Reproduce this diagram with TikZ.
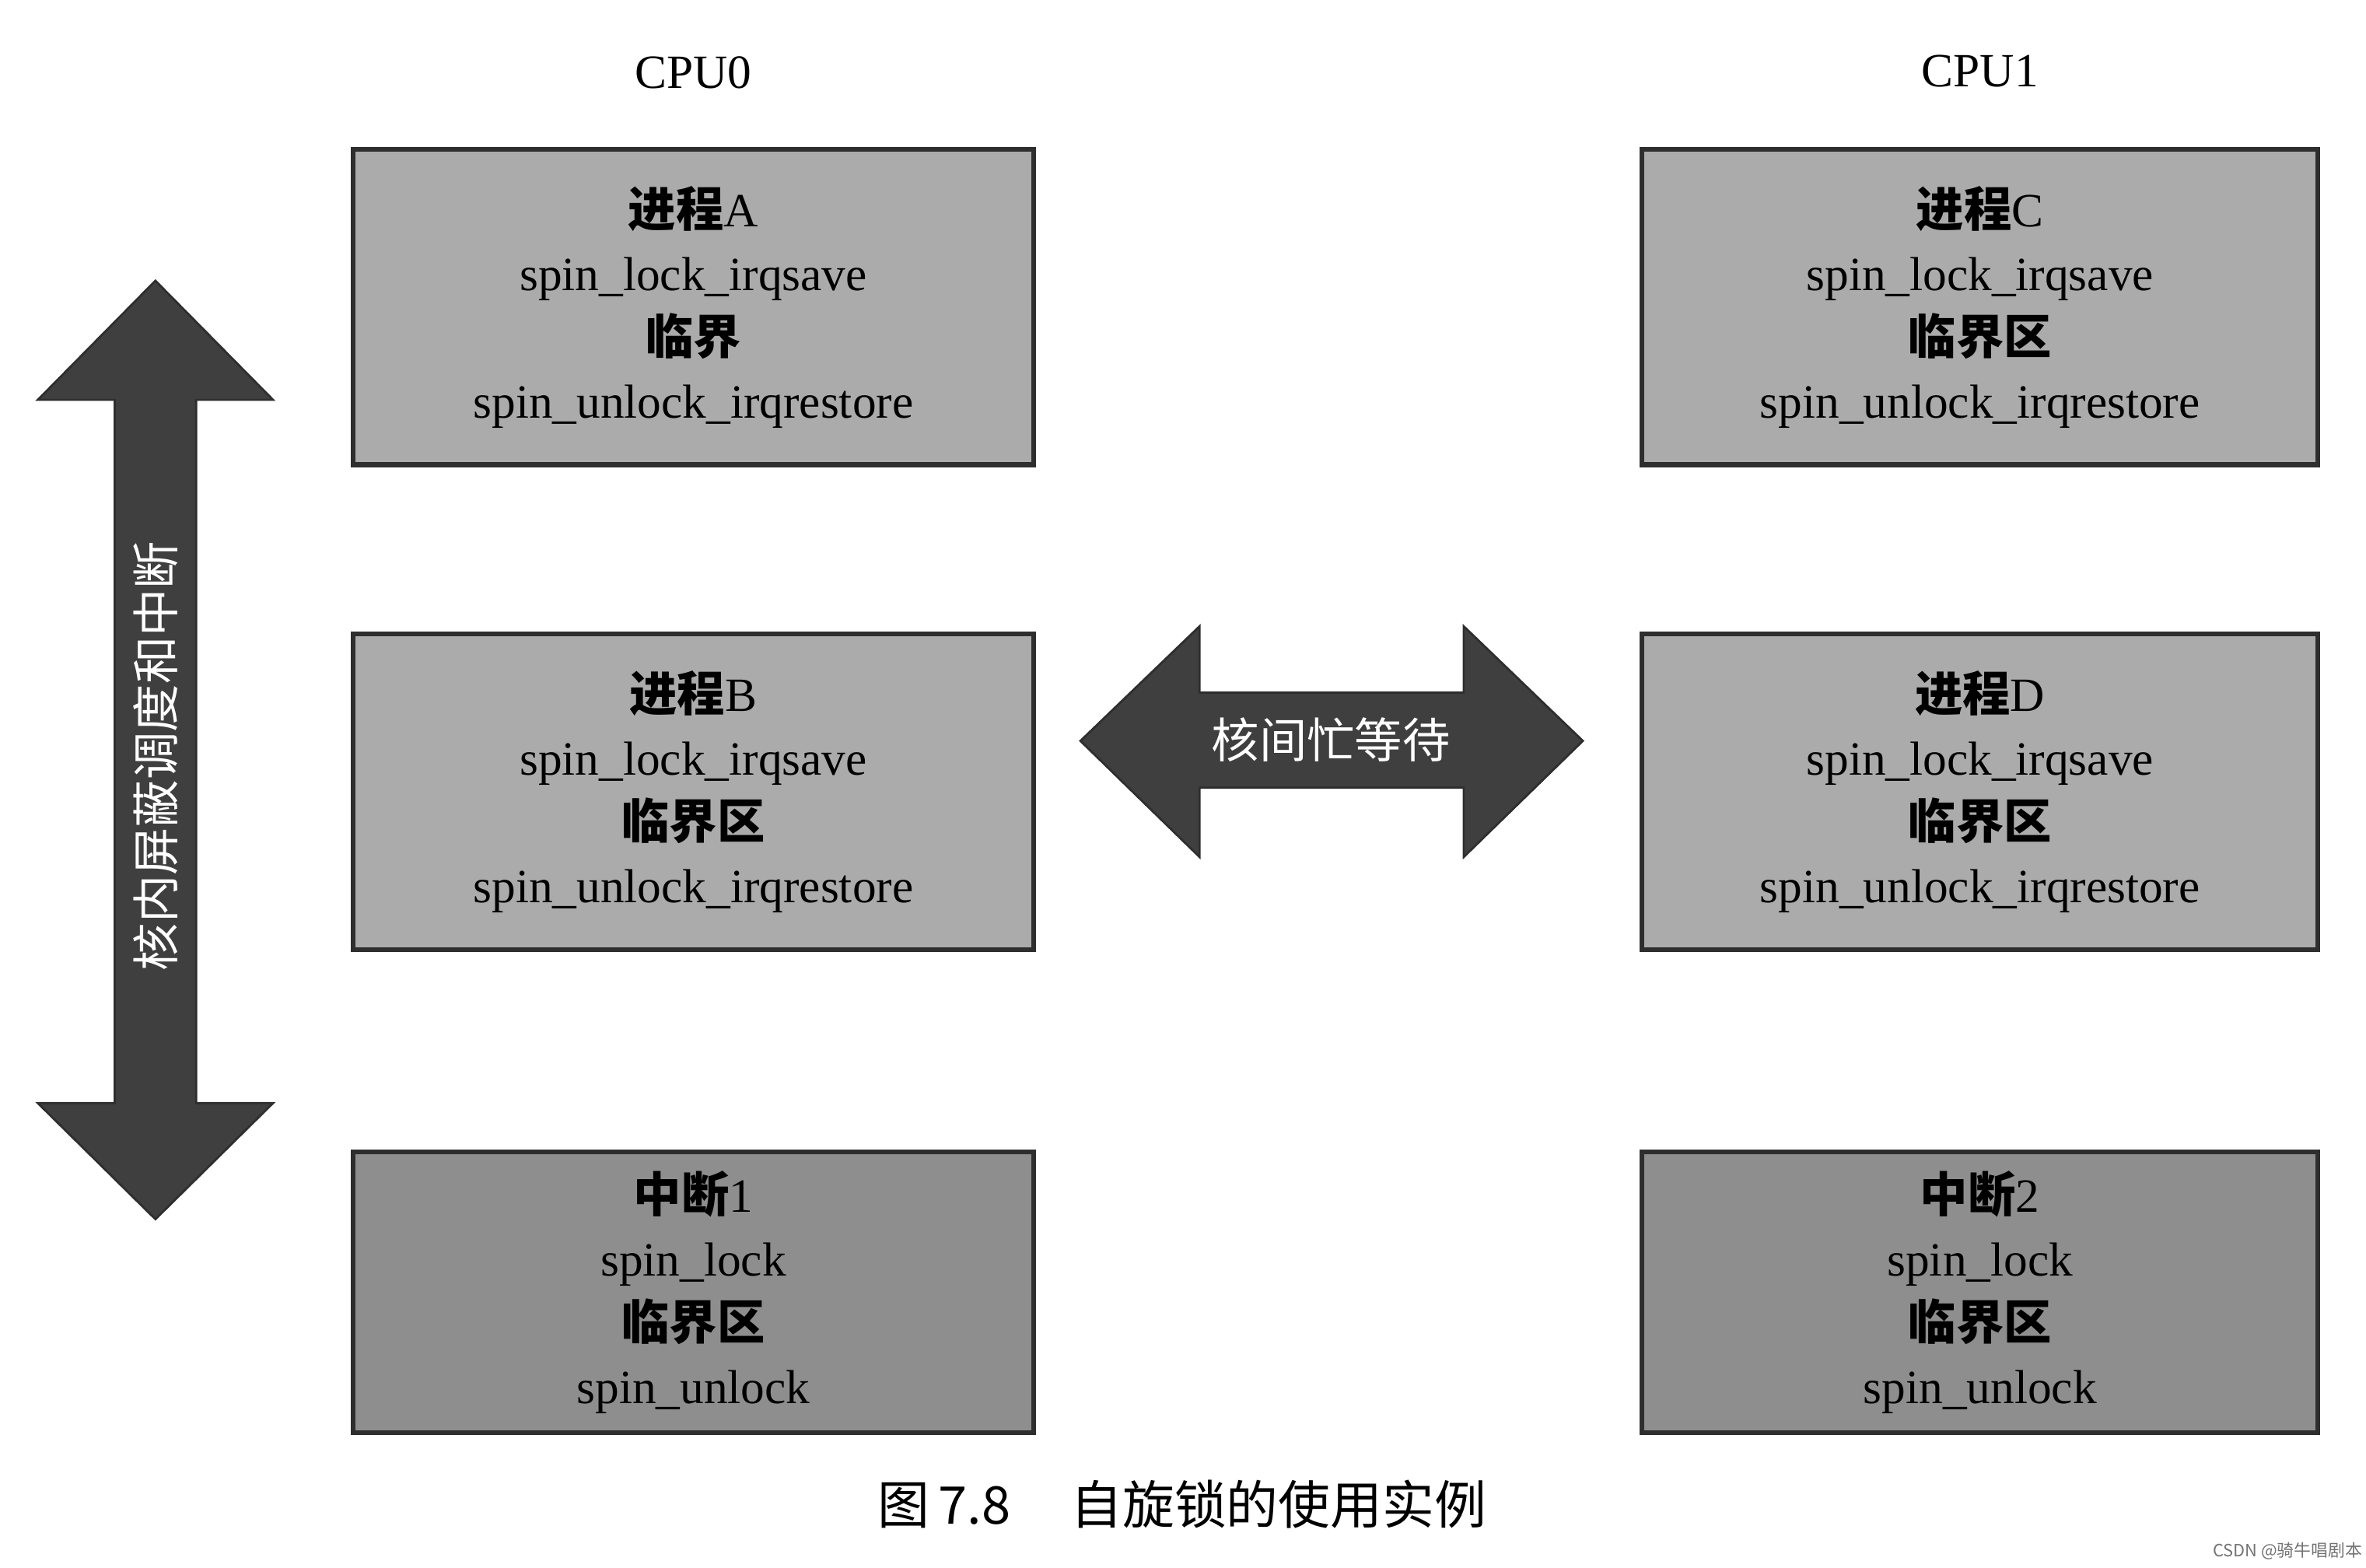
\documentclass[tikz,border=0pt]{standalone}
\usepackage{fontspec}
\setmainfont{Liberation Serif}
\newfontfamily\cjk{Noto Sans CJK SC}
\usepackage{xcolor}
\usepackage{tikz}
\usetikzlibrary{positioning}
\definecolor{ink}{HTML}{2E2E2E}
\definecolor{procfill}{HTML}{ABABAB}
\definecolor{irqfill}{HTML}{8E8E8E}
\definecolor{bigarrow}{HTML}{3F3F3F}
\newcommand{\hz}[1]{{\cjk\bfseries #1}}
\begin{document}
\begin{tikzpicture}[x=1cm, y=1cm, node distance=10.9mm and 40.0mm, every node/.style={font=\fontsize{9}{12}\selectfont}, box/.style={draw=ink,line width=0.9pt,fill=procfill,minimum width=45.1mm,minimum height=20.9mm,align=center,inner sep=2pt}, irqbox/.style={box,fill=irqfill,minimum height=18.6mm}, cpu/.style={inner sep=0pt}, fat/.style={fill=bigarrow,draw=ink,line width=0.4pt}, onarrow/.style={text=white,inner sep=0pt,font=\cjk\fontsize{9}{12}\selectfont}]
\useasboundingbox (0,0) rectangle (15.68,-10.39);
% process and interrupt boxes
\node[box] (procA) at (4.595,-2.035) {\hz{进程}A\\spin\_lock\_irqsave\\\hz{临界}\\spin\_unlock\_irqrestore};
\node[box,below=of procA] (procB) {\hz{进程}B\\spin\_lock\_irqsave\\\hz{临界区}\\spin\_unlock\_irqrestore};
\node[irqbox,below=13.1mm of procB] (irqA) {\hz{中断}1\\spin\_lock\\\hz{临界区}\\spin\_unlock};
\node[box,right=of procA,minimum width=44.8mm] (procC) {\hz{进程}C\\spin\_lock\_irqsave\\\hz{临界区}\\spin\_unlock\_irqrestore};
\node[box,below=of procC,minimum width=44.8mm] (procD) {\hz{进程}D\\spin\_lock\_irqsave\\\hz{临界区}\\spin\_unlock\_irqrestore};
\node[irqbox,below=13.1mm of procD,minimum width=44.8mm] (irqB) {\hz{中断}2\\spin\_lock\\\hz{临界区}\\spin\_unlock};
\node[cpu,above=3.8mm of procA] (cpuA) {CPU0};
\node[cpu,above=3.9mm of procC] (cpuB) {CPU1};
% block arrows
\filldraw[fat] (1.03,-1.86) -- (1.81,-2.65) -- (1.30,-2.65) -- (1.30,-7.31) -- (1.81,-7.31) -- (1.03,-8.08) -- (0.25,-7.31) -- (0.76,-7.31) -- (0.76,-2.65) -- (0.25,-2.65) -- cycle;
\node[onarrow,rotate=90] (maskirq) at (1.03,-5.01) {核内屏蔽调度和中断};
\filldraw[fat] (7.16,-4.91) -- (7.95,-4.15) -- (7.95,-4.59) -- (9.70,-4.59) -- (9.70,-4.15) -- (10.49,-4.91) -- (9.70,-5.68) -- (9.70,-5.22) -- (7.95,-5.22) -- (7.95,-5.68) -- cycle;
\node[onarrow] (busywait) at (8.82,-4.90) {核间忙等待};
% caption and mark
\node[inner sep=0pt,font=\cjk\fontsize{9.8}{12}\selectfont] (caption) at (7.835,-9.97) {图\,7.8\hspace{1.15em}自旋锁的使用实例};
\node[inner sep=0pt,text=black!55,font=\cjk\fontsize{3.2}{4}\selectfont] (mark) at (15.16,-10.28) {CSDN @骑牛唱剧本};
\end{tikzpicture}
\end{document}
